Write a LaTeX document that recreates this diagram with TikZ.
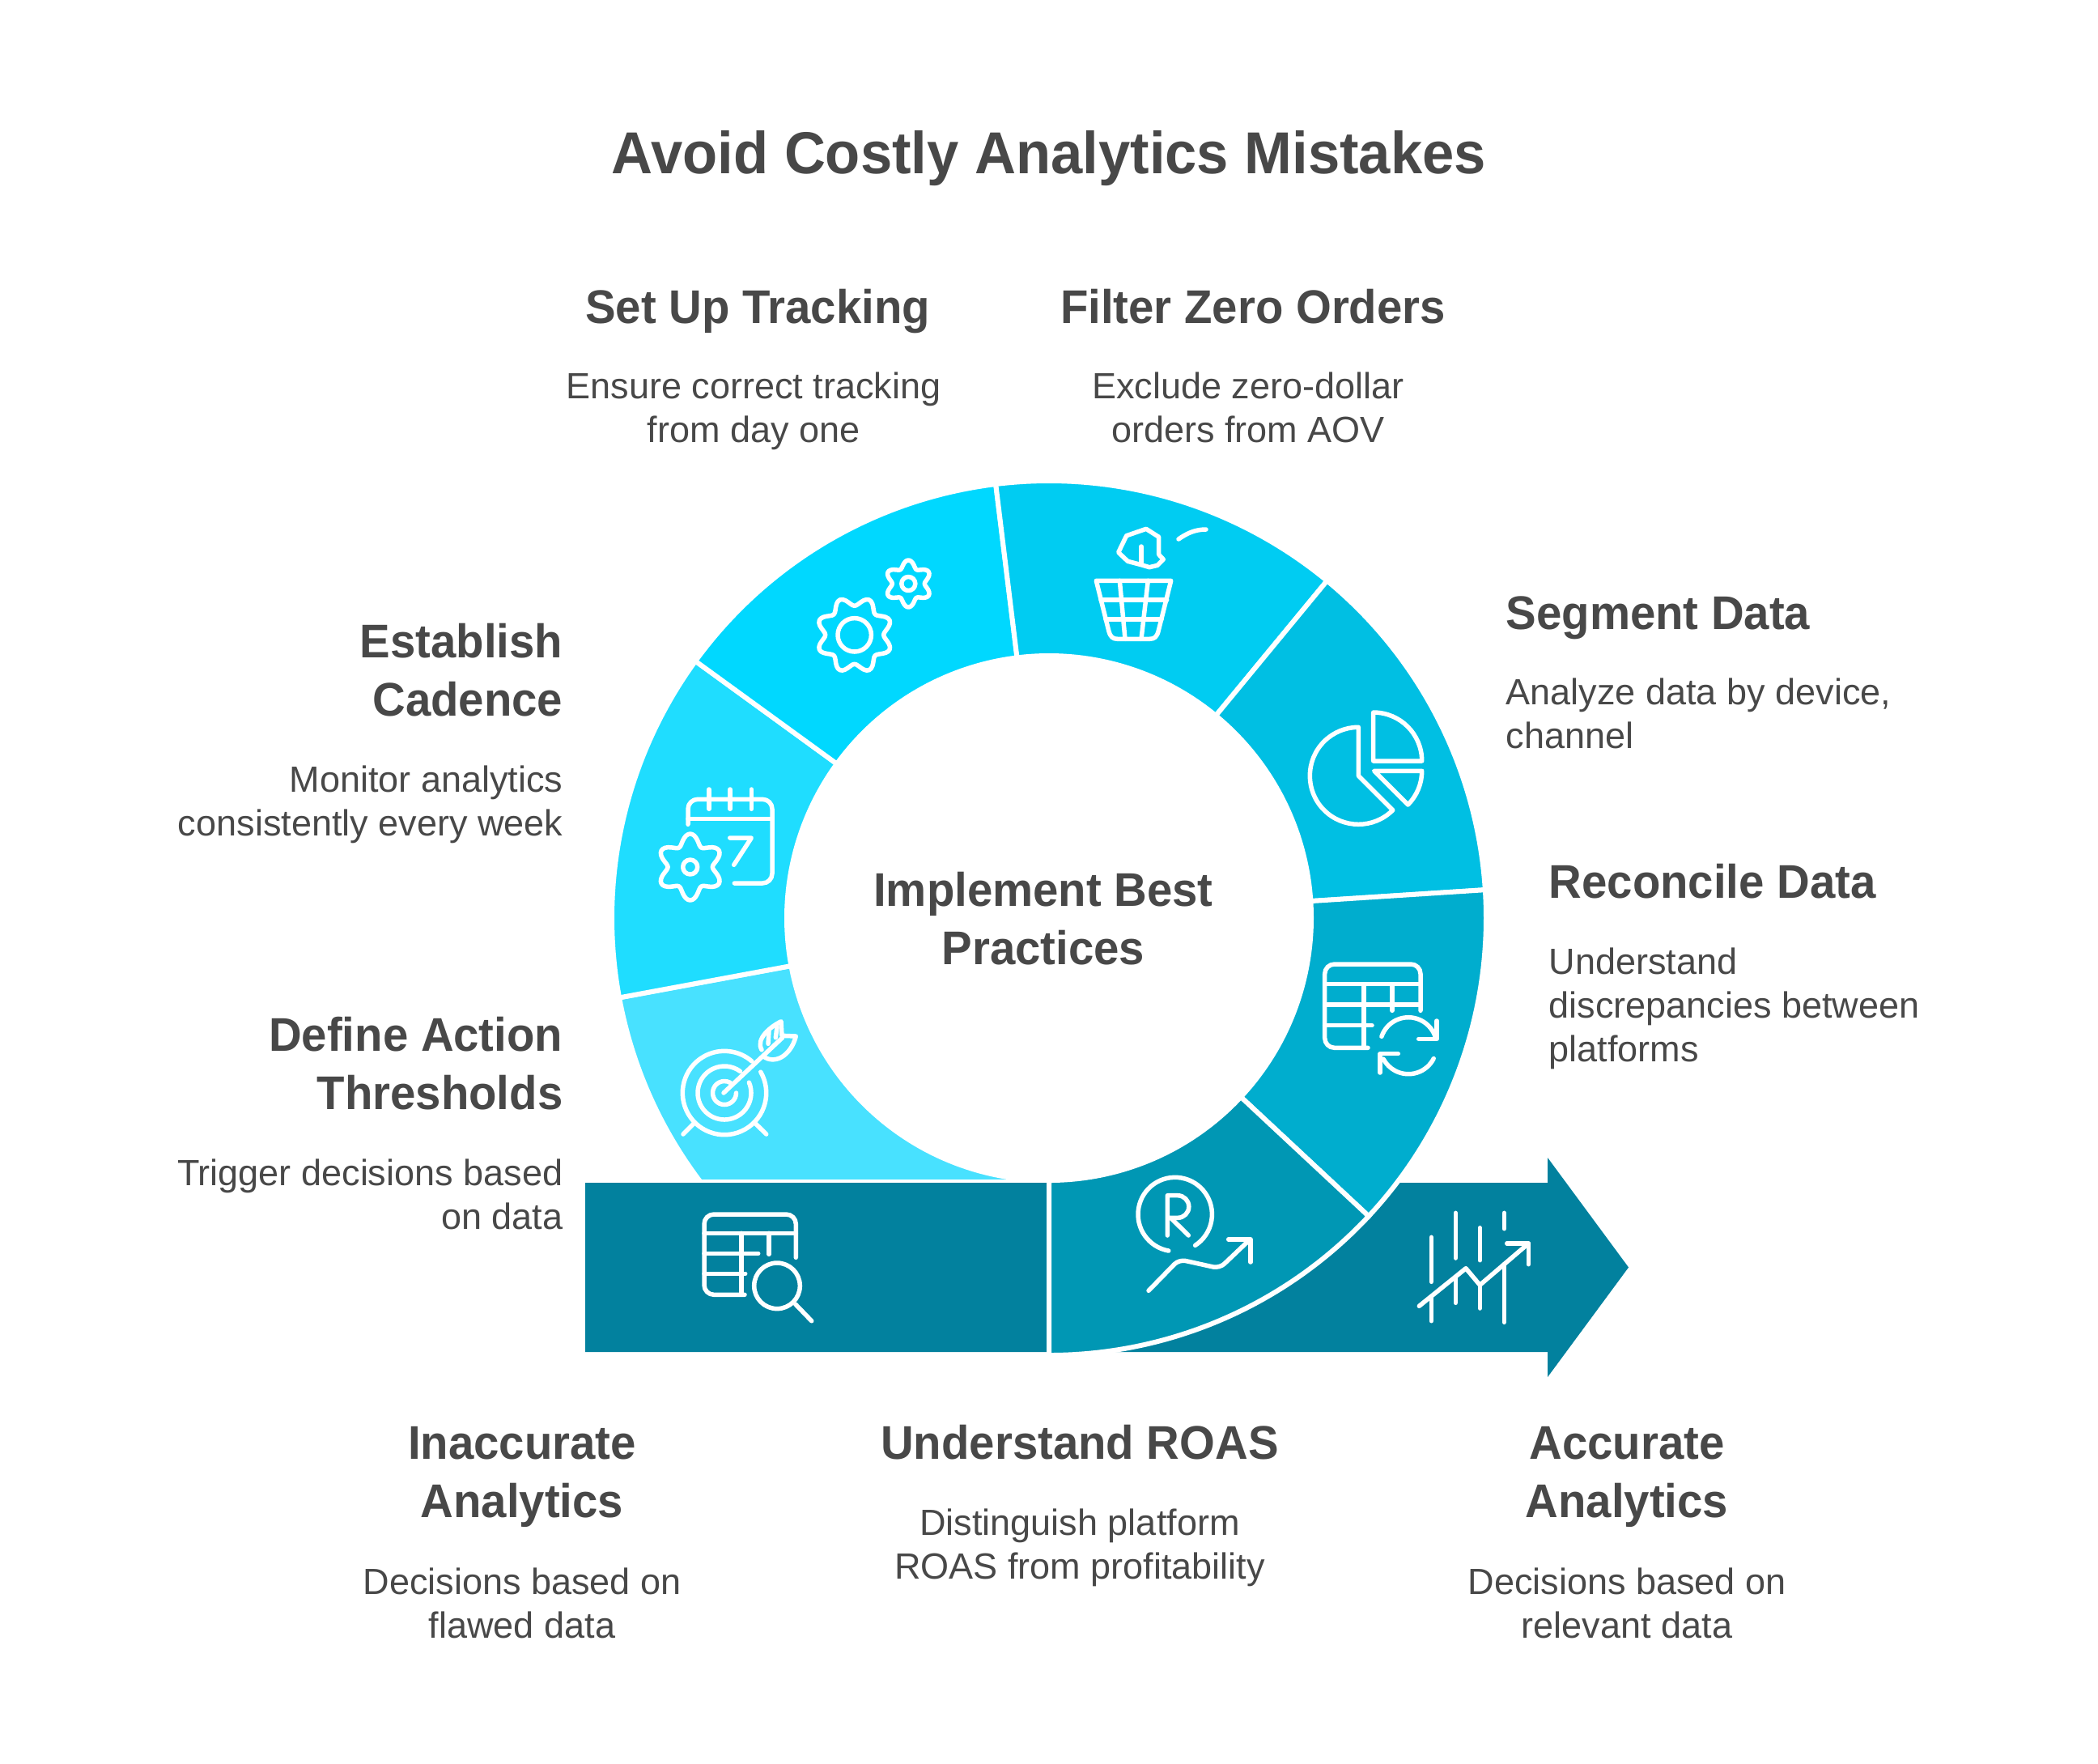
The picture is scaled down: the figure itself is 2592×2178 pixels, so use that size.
\documentclass[tikz,border=0pt]{standalone}
\usepackage{fontspec}
\setmainfont[BoldFeatures={FakeStretch=0.965}]{Liberation Sans}
\usetikzlibrary{arrows}

\definecolor{inktext}{HTML}{484848}
\definecolor{arrowteal}{HTML}{02819E}
\definecolor{defcol}{HTML}{48E1FF}
\definecolor{estcol}{HTML}{1FDDFF}
\definecolor{setcol}{HTML}{00D8FF}
\definecolor{filtcol}{HTML}{00CCF2}
\definecolor{segcol}{HTML}{00BFE3}
\definecolor{reccol}{HTML}{00ADCE}
\definecolor{roascol}{HTML}{0097B4}

\tikzset{
  titletext/.style={text=inktext,font=\fontsize{20.8}{25}\selectfont\bfseries,align=center,inner sep=0pt,execute at begin node=\strut,execute at end node=\strut},
  headtext/.style={text=inktext,font=\fontsize{16.6}{20.6}\selectfont\bfseries,inner sep=0pt,execute at begin node=\strut,execute at end node=\strut},
  bodytext/.style={text=inktext,font=\fontsize{12.8}{15.36}\selectfont,inner sep=0pt,execute at begin node=\strut,execute at end node=\strut},
  iconline/.style={draw=white,line width=5.5*0.2845pt,line cap=round,line join=round},
  ringpart/.style={draw=white,line width=6*0.2845pt,line join=miter}
}

% one piece of the ring, angles run clockwise
\newcommand{\ringseg}[3]{
\filldraw[ringpart,fill=#3] ({1296+540*cos(#1)},{1134+540*sin(#1)}) arc[start angle=#1,end angle=#2,radius=540] -- ({1296+324*cos(#2)},{1134+324*sin(#2)}) arc[start angle=#2,end angle=#1,radius=324] -- cycle;
}
% wavy gear outline: centre x, centre y, mean radius, wave, teeth, phase
\newcommand{\gearicon}[6]{
\draw[iconline] plot[domain=0:360,samples=97,smooth] ({#1+(#3+#4*cos(#5*(\x-#6)))*cos(\x)},{#2+(#3+#4*cos(#5*(\x-#6)))*sin(\x)}) -- cycle;
}

\begin{document}
\begin{tikzpicture}[x=0.01cm,y=-0.01cm]
\useasboundingbox (0,0) rectangle (2592,2178);

% arrow behind the ring
\fill[arrowteal] (723,1461) -- (1912,1461) -- (1912,1430) -- (2012,1565.5) -- (1912,1701) -- (1912,1670) -- (723,1670) -- cycle;
\begin{scope}
\clip (600,1134) rectangle (1296,1456);
\ringseg{-270}{-190.5}{defcol}
\end{scope}
\ringseg{-190.5}{-144}{estcol}
\ringseg{-144}{-97}{setcol}
\ringseg{-97}{-50.5}{filtcol}
\ringseg{-50.5}{-3.7}{segcol}
\ringseg{-3.7}{43}{reccol}
\ringseg{43}{90}{roascol}
\draw[draw=white,line width=6*0.2845pt] (1296,1461) -- (1296,1673);

% texts
\node[titletext] (title) at (1296,197) {Avoid Costly Analytics Mistakes};
\node[headtext,align=center] (center) at (1289,1145) {Implement Best\\Practices};

\node[headtext] (tracking) at (936,385) {Set Up Tracking};
\node[bodytext,align=center] (trackingtxt) at (931,511) {Ensure correct tracking\\from day one};
\node[headtext] (filter) at (1548,385) {Filter Zero Orders};
\node[bodytext,align=center] (filtertxt) at (1542,511) {Exclude zero-dollar\\orders from AOV};
\node[headtext,anchor=west] (segment) at (1860,763) {Segment Data};
\node[bodytext,align=left,anchor=west] (segmenttxt) at (1860,889) {Analyze data by device,\\channel};
\node[headtext,anchor=west] (reconcile) at (1913,1095) {Reconcile Data};
\node[bodytext,align=left,anchor=west] (reconciletxt) at (1913,1249) {Understand\\discrepancies between\\platforms};
\node[headtext,align=right,anchor=east] (cadence) at (696,838) {Establish\\Cadence};
\node[bodytext,align=right,anchor=east] (cadencetxt) at (696,997) {Monitor analytics\\consistently every week};
\node[headtext,align=right,anchor=east] (action) at (696,1324) {Define Action\\Thresholds};
\node[bodytext,align=right,anchor=east] (actiontxt) at (696,1483) {Trigger decisions based\\on data};
\node[headtext,align=center] (inaccurate) at (645,1829) {Inaccurate\\Analytics};
\node[bodytext,align=center] (inaccuratetxt) at (645,1988) {Decisions based on\\flawed data};
\node[headtext] (roas) at (1334,1788) {Understand ROAS};
\node[bodytext,align=center] (roastxt) at (1334,1915) {Distinguish platform\\ROAS from profitability};
\node[headtext,align=center] (accurate) at (2010,1829) {Accurate\\Analytics};
\node[bodytext,align=center] (accuratetxt) at (2010,1988) {Decisions based on\\relevant data};

% gears
\gearicon{1055.7}{784.3}{41.5}{5.5}{8}{22.5}
\draw[iconline] (1055.7,784.3) circle[radius=20.7];
\gearicon{1122.3}{721}{24.5}{4.5}{6}{-90}
\draw[iconline] (1122.3,721) circle[radius=8.5];

% basket
\draw[iconline] (1354.3,717.3) -- (1446.7,717.3) -- (1431,780) .. controls (1429,787) and (1426,789.3) .. (1420,789.3) -- (1381,789.3) .. controls (1375,789.3) and (1372,787) .. (1370,780) -- cycle;
\draw[iconline] (1360,741) -- (1441.7,741);
\draw[iconline] (1366,765) -- (1435,765);
\draw[iconline] (1383.3,717.3) -- (1390,789.3);
\draw[iconline] (1418.3,717.3) -- (1410,789.3);
\draw[iconline] (1391.7,661.7) -- (1416,653.3) -- (1431.7,663.3) -- (1431.7,685) -- (1437.3,691) -- (1430,698.3) -- (1420,700.7) -- (1410,697.7) -- (1393.3,693.3) -- (1381.7,682.3) -- cycle;
\draw[iconline] (1410,675) -- (1410,695);
\draw[iconline] (1456,666) .. controls (1466,659) and (1476,654) .. (1490,654);

% pie
\draw[iconline] (1678.3,898.3) -- (1678.3,958.3) -- (1720.7,1000.7) arc[start angle=45,end angle=270,radius=60];
\draw[iconline] (1696.7,880) arc[start angle=-90,end angle=0,radius=60] -- (1696.7,940) -- cycle;
\draw[iconline] (1697.7,952.3) -- (1756.7,952.3) arc[start angle=0,end angle=45,radius=59] -- cycle;

% calendar
\gearicon{852.7}{1071}{34.3}{6.7}{6}{-90}
\draw[iconline] (852.7,1071) circle[radius=9];
\draw[iconline,rounded corners=3.4pt] (850,1018.3) -- (850,987.3) -- (954,987.3) -- (954,1091) -- (907.3,1091);
\draw[iconline] (850,1011.7) -- (954,1011.7);
\draw[iconline] (876,975) -- (876,999.3);
\draw[iconline] (902,975) -- (902,999.3);
\draw[iconline] (928.3,975) -- (928.3,999.3);
\draw[iconline] (901.7,1035) -- (928.3,1035) -- (906.7,1068.3);

% target
\draw[iconline] ({895+51.7*cos(-30)},{1350+51.7*sin(-30)}) arc[start angle=-30,end angle=311,radius=51.7];
\draw[iconline] ({895+33*cos(-23)},{1350+33*sin(-23)}) arc[start angle=-23,end angle=306,radius=33];
\draw[iconline] ({895+14.5*cos(0)},{1350+14.5*sin(0)}) arc[start angle=0,end angle=300,radius=14.5];
\draw[iconline] (894,1350) -- (966.7,1281.7);
\draw[iconline] (941,1296.7) .. controls (933.3,1283.3) and (951.7,1268.3) .. (965,1261.7) -- (966,1279.3) -- (983.3,1280) .. controls (976.7,1305) and (956.7,1315) .. (943.3,1305);
\draw[iconline] (950,1274) -- (949,1289.3);
\draw[iconline] (960,1268.3) -- (958.3,1281.7);
\draw[iconline] (857.3,1387.7) -- (844,1401);
\draw[iconline] (933.3,1387.7) -- (946.7,1401);

% table with refresh
\draw[iconline,rounded corners=3.4pt] (1755,1248.3) -- (1755,1191) -- (1636.7,1191) -- (1636.7,1294.3) -- (1690,1294.3);
\draw[iconline] (1636.7,1215.7) -- (1755,1215.7);
\draw[iconline] (1636.7,1241) -- (1755,1241);
\draw[iconline] (1636.7,1266.7) -- (1695,1266.7);
\draw[iconline] (1685,1215.7) -- (1685,1294.3);
\draw[iconline] (1720,1215.7) -- (1720,1248.3);
\draw[iconline] ({1740+35*cos(-161)},{1291.7+35*sin(-161)}) arc[start angle=-161,end angle=-19,radius=35];
\draw[iconline] (1775,1261) -- (1775,1283.3) -- (1752.7,1283.3);
\draw[iconline] ({1740+35*cos(27)},{1291.7+35*sin(27)}) arc[start angle=27,end angle=152,radius=35];
\draw[iconline] (1705,1325) -- (1705,1301.7) -- (1727.3,1301.7);

% R and trend
\draw[iconline] ({1451.7+45.7*cos(100)},{1500+45.7*sin(100)}) arc[start angle=100,end angle=417,radius=45.7];
\draw[iconline] (1442.3,1526) -- (1442.3,1476.7) -- (1455,1476.7) arc[start angle=-90,end angle=90,radius=13.8] -- (1442.3,1504.3);
\draw[iconline] (1447,1505) -- (1468.3,1526);
\draw[iconline,rounded corners=2.3pt] (1419,1594.3) -- (1456.7,1555.7) -- (1506.7,1566.7) -- (1544.3,1531);
\draw[iconline] (1517.7,1531) -- (1545,1531) -- (1545,1559);

% table with magnifier
\draw[iconline,rounded corners=3.4pt] (983.3,1553.3) -- (983.3,1500) -- (870,1500) -- (870,1599.3) -- (920,1599.3);
\draw[iconline] (870,1523.3) -- (983.3,1523.3);
\draw[iconline] (870,1548.3) -- (936.7,1548.3);
\draw[iconline] (870,1573.3) -- (920.7,1573.3);
\draw[iconline] (916,1523.3) -- (916,1599.3);
\draw[iconline] (950,1523.3) -- (950,1549.3);
\draw[iconline] (960,1588.3) circle[radius=28.3];
\draw[iconline] (982.7,1611) -- (1002.7,1631.7);

% chart on the arrow
\draw[iconline] (1753.3,1613.3) -- (1811,1566.7) -- (1828.3,1587.3) -- (1888.3,1536);
\draw[iconline] (1861.7,1536) -- (1888.3,1536) -- (1888.3,1561.7);
\draw[iconline] (1768.3,1528.3) -- (1768.3,1583.3);
\draw[iconline] (1768.3,1603.3) -- (1768.3,1631.7);
\draw[iconline] (1798.3,1498.3) -- (1798.3,1554);
\draw[iconline] (1798.3,1578.3) -- (1798.3,1609.3);
\draw[iconline] (1828.3,1516.7) -- (1828.3,1556.7);
\draw[iconline] (1828.3,1587.3) -- (1828.3,1616);
\draw[iconline] (1858.3,1498.3) -- (1858.3,1517.7);
\draw[iconline] (1858.3,1561.7) -- (1858.3,1633.3);

\end{tikzpicture}
\end{document}
